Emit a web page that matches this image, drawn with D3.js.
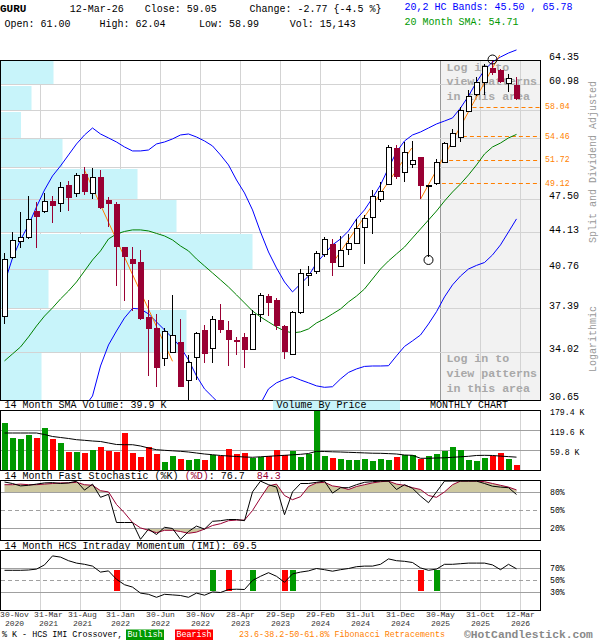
<!DOCTYPE html>
<html><head><meta charset="utf-8">
<script src="https://cdn.jsdelivr.net/npm/d3@7"></script>
<style>body{margin:0;background:#fff}svg{display:block}text{font-family:"Liberation Mono",monospace}</style>
</head><body><svg id="c" width="600" height="640"></svg>
<script>
// ---------------- DATA ----------------
const months = d3.timeMonth.range(new Date(2020,10,1), new Date(2026,3,1)).map(d3.timeFormat("%b-%Y"));
const openP  = [36.8,41.9,43.4,43.7,46.3,46.25,47.3,47.1,49.0,48.1,50.2,48.1,49.8,47.4,47.0,42.8,41.7,41.4,36.75,35.9,33.6,34.0,34.8,32.0,33.7,35.7,34.3,36.5,35.7,34.95,35.15,34.25,37.0,38.45,38.1,36.0,33.9,37.1,40.3,40.6,42.15,43.05,41.1,42.6,43.2,44.75,45.65,47.5,49.1,53.1,50.35,51.3,52.1,48.9,49.2,51.5,53.4,54.45,57.6,59.7,61.4,63.3,62.95,61.15,61.00];
const highP  = [42.2,44.25,46.2,47.8,47.2,48.1,47.8,49.3,49.4,50.3,50.9,50.8,50.6,47.7,47.2,42.8,42.8,42.5,38.1,37.0,35.9,38.5,36.6,33.8,35.55,36.1,36.8,37.8,36.4,35.2,35.45,37.3,38.7,38.6,38.3,36.1,37.25,40.8,41.05,42.45,43.7,43.55,43.85,44.0,45.45,45.9,48.45,49.35,53.45,53.45,53.85,53.9,52.1,49.0,51.85,53.8,55.35,58.1,60.25,62.05,63.75,64.4,63.1,62.35,62.04];
const lowP   = [36.2,41.7,42.7,43.5,42.7,46.1,45.1,46.2,46.3,47.7,47.9,47.55,46.5,44.7,39.3,38.0,37.2,36.5,32.3,31.5,33.0,34.0,31.5,30.6,32.0,33.25,33.2,35.5,33.0,33.8,32.9,34.2,36.35,36.8,35.7,33.5,33.8,37.0,39.3,40.35,41.85,40.2,41.0,42.05,43.1,41.25,44.0,47.25,49.0,49.65,49.3,50.8,47.5,41.9,49.0,51.4,53.25,53.8,57.45,59.5,59.6,62.3,61.15,60.05,58.99];
const closeP = [41.7,43.45,43.75,45.5,45.7,47.3,46.8,48.75,47.65,50.05,48.2,49.8,46.55,47.0,42.75,41.85,41.2,36.6,35.8,32.9,35.6,35.3,31.55,33.3,35.5,33.85,36.55,35.7,34.95,34.8,34.2,36.95,38.5,37.9,36.0,34.05,37.15,40.4,40.45,42.2,43.5,41.3,42.5,43.2,44.6,45.55,47.85,48.4,53.2,49.9,52.7,51.7,48.9,48.95,51.55,53.65,54.85,57.7,59.55,61.4,63.55,62.5,61.4,61.82,59.05];
const volumeK = [142,97,94,106,97,127,94,82,55,55,52,61,70,58,56,112,52,40,69,49,25,43,34,31,34,31,46,43,64,49,52,37,40,43,61,46,58,40,49,185,43,37,34,31,31,34,28,34,31,40,46,46,34,43,49,58,70,61,31,28,37,43,52,34,15.1];
const volSma14 = [112.1,112.1,112.1,112.1,112.1,107.6,101.7,98.7,95.7,92.1,90.3,88.2,86.7,82.2,77.7,77.1,77.1,73.3,67.3,62.2,60.4,58.9,57.4,55.3,52.3,49.3,47.2,44.9,43.4,41.9,40.4,39.5,41.0,42.5,44.0,45.4,46.9,48.4,50.8,57.4,56.8,55.9,55.3,54.4,53.5,52.6,51.7,51.4,50.5,49.3,46.3,45.4,36.5,36.5,37.4,38.0,39.5,41.0,42.5,44.9,45.4,44.9,43.0,41.5,39.9];
const upperBand = [39.56,41.78,43.46,44.90,46.70,48.46,49.97,51.07,52.31,53.58,54.64,55.48,54.76,54.29,53.81,53.23,52.77,52.77,52.88,53.58,53.81,54.17,54.64,54.76,54.40,53.93,53.35,52.31,51.18,49.53,48.15,46.40,44.22,42.33,40.88,39.65,38.80,39.48,40.17,41.33,42.15,42.99,43.55,44.32,45.49,46.40,47.63,49.00,50.84,52.65,53.93,54.64,55.00,55.48,55.97,56.33,56.71,57.95,59.49,61.33,62.96,64.07,64.77,65.34,65.78];
const lowerBand = [28.17,27.49,27.24,27.55,27.78,27.96,28.10,28.59,28.90,29.34,30.18,30.92,33.01,34.56,35.63,36.66,37.43,37.38,36.98,36.34,35.71,35.09,34.41,33.45,32.30,31.40,30.86,30.33,30.05,30.0,29.80,29.86,30.40,31.40,31.82,32.06,32.25,32.02,31.82,31.61,31.51,31.55,32.09,32.55,32.80,32.98,33.01,33.01,33.03,33.75,34.45,34.87,35.32,36.18,37.16,38.38,39.40,40.17,40.79,41.11,41.37,42.06,42.99,44.22,45.50];
const sma20 = [33.38,33.89,34.41,35.17,36.02,36.81,37.47,38.21,38.88,39.65,40.61,41.60,42.43,43.55,44.03,44.27,44.42,44.42,44.32,44.08,43.84,43.46,42.89,42.43,41.69,41.06,40.44,39.83,39.22,38.55,37.88,37.22,36.74,36.34,35.95,35.63,35.48,35.56,35.79,36.26,36.58,36.98,37.38,37.96,38.45,39.05,39.91,40.79,41.51,42.15,42.79,43.65,44.51,45.39,46.29,47.31,48.25,49.10,50.08,51.18,52.42,53.23,53.69,54.29,54.71];
const stochK = [97.5,95,91,92,94,96,96.5,95,96,98.8,84,94,72,77,30,30,30,2,19,10,22,20,2,15,24,19,32,33,35,35,33,81,99,93,89,43,81,95,95,97,99,79,88,88,93,97,98,99,99,85,93,87,74,63,81,99,99,99,99,99,95,90.5,89,88,76.7];
const stochD = [93,93,94,93,93,94,95,96,96,97,93,92,83,81,60,46,30,21,17,13,17,17,15,12,14,19,25,28,33,34,34,50,71,91,94,75,68,73,90,96,97,91,89,85,90,93,96,98,99,94,92,88,85,75,72,81,93,99,99,99,98,95,92,89,84.3];
const imi = [67,67,67,67.5,69,76,91,89,83,79,77,74,64,66,52,43,39,29,27,22,27,26,25,22,29,25.5,31,30,35,35.5,35,50,57,63,57,47,61,64,66,70,68,65.5,68,70,73,74,74,77,86,83,82,80,71,67,69,77,77,78,79,79,79,76,68,77,69.5];
const imiSignals = [{i:14,t:"bear"},{i:26,t:"bull"},{i:28,t:"bear"},{i:31,t:"bull"},{i:35,t:"bear"},{i:36,t:"bull"},{i:52,t:"bear"},{i:54,t:"bull"}];
const priceTicks = [64.35,60.98,57.61,54.24,50.87,47.50,44.13,40.76,37.39,34.02,30.65];
const fibLevels = [58.04,54.46,51.72,49.12];
const fibStartIdx = [58.5,57.3,54.7,53.8];
const trendLines = [{i0:10,p0:50.6,i1:21,p1:33.35},{i0:41,p0:41.3,i1:50.9,p1:53.1},{i0:52,p0:47.5,i1:61.9,p1:65.06}];
const patternMarks = [{i:53,p:41.6},{i:61,p:64.42}];
const vbpVolume = [210,122,80,246,546,702,1006,190,742,162]; // per price band, top to bottom
const volTicks = [179.4,119.6,59.8];
const volTickLabels = ["179.4 K","119.6 K","59.8 K"];
const pctTicksStoch = [80,50,20];
const pctTicksImi = [70,50,30];
const dateTickIdx = [0,4,9,14,19,24,29,34,39,44,49,54,59,64];
const dateTickLabels = [["30-Nov","2020"],["31-Mar","2021"],["31-Aug","2021"],["31-Jan","2022"],["30-Jun","2022"],["30-Nov","2022"],["28-Apr","2023"],["29-Sep","2023"],["29-Feb","2024"],["31-Jul","2024"],["31-Dec","2024"],["30-May","2025"],["31-Oct","2025"],["12-Mar","2026"]];

// ---------------- SCALES ----------------
const svg = d3.select("#c");
const W0 = 0.5, W1 = 540.5;
const x = d3.scaleLinear().domain([0,64]).range([4.5,516.5]);
const yP = d3.scaleLog().domain([30.65,64.35]).range([400,60]);
const yV = d3.scaleLinear().domain([0,179.4]).range([470.5,410.5]);
const yS = d3.scaleLinear().domain([0,100]).range([540.5,480.5]);
const yI = d3.scaleLinear().domain([0,100]).range([610.5,550.5]);
const vbpX = d3.scaleLinear().domain([0,2160]).range([1,541]);
const crisp = v => Math.round(v - 0.5) + 0.5;

const RED_C = "#990033", GREEN_V = "#009900", RED_V = "#ff0000", GRID = "#d3d3d3", GRID2 = "#a0a0a0", ORANGE = "#ff7f00";
const defs = svg.append("defs");
defs.append("clipPath").attr("id","cp").append("rect").attr("x",1).attr("y",0).attr("width",539).attr("height",400);
defs.append("clipPath").attr("id","cv").append("rect").attr("x",1).attr("y",411).attr("width",539).attr("height",59);
defs.append("clipPath").attr("id","cs").append("rect").attr("x",1).attr("y",481).attr("width",539).attr("height",59);
defs.append("clipPath").attr("id","ci").append("rect").attr("x",1).attr("y",551).attr("width",539).attr("height",59);
defs.append("clipPath").attr("id","csHi").append("rect").attr("x",1).attr("y",481).attr("width",539).attr("height",yS(80)-481);
defs.append("clipPath").attr("id","csLo").append("rect").attr("x",1).attr("y",yS(20)).attr("width",539).attr("height",540-yS(20));

const gridX = dateTickIdx.slice(1).map(i => crisp(x(i)+4));

// ---------------- HEADER ----------------
const hdr = svg.append("g").attr("font-size",10).attr("dominant-baseline","middle");
hdr.append("text").attr("x",0).attr("y",9.5).attr("font-weight","bold").attr("font-size",11).text("GURU");
hdr.append("text").attr("x",69.7).attr("y",9.5).text("12-Mar-26");
hdr.append("text").attr("x",144.7).attr("y",9.5).text("Close: " + closeP[64].toFixed(2));
hdr.append("text").attr("x",249.5).attr("y",9.5).attr("xml:space","preserve").text("Change: -2.77 {-4.5 %}");
hdr.append("text").attr("x",404.5).attr("y",7.5).attr("fill","#0000ff").attr("xml:space","preserve").text("20,2 HC Bands: 45.50 , 65.78");
hdr.append("text").attr("x",4.6).attr("y",24.5).text("Open: " + openP[64].toFixed(2));
hdr.append("text").attr("x",99.5).attr("y",24.5).text("High: " + highP[64].toFixed(2));
hdr.append("text").attr("x",199).attr("y",24.5).text("Low: " + lowP[64].toFixed(2));
hdr.append("text").attr("x",289.7).attr("y",24.5).text("Vol: 15,143");
hdr.append("text").attr("x",404.5).attr("y",22.5).attr("fill","#009900").text("20 Month SMA: 54.71");

// ---------------- PRICE PANEL ----------------
const gp = svg.append("g");
gp.append("rect").attr("x",crisp(x(54)+4)).attr("y",60.5).attr("width",W1-crisp(x(54)+4)).attr("height",340).attr("fill","#f2f2f2");
gp.selectAll(".vg").data(gridX).join("line").attr("x1",d=>d).attr("x2",d=>d).attr("y1",61).attr("y2",400)
  .attr("stroke",d=>d===crisp(x(54)+4)?"#999":GRID);
const bands = d3.range(vbpVolume.length).map(k => ({top:yP(priceTicks[k]), bot:yP(priceTicks[k+1]), v:vbpVolume[k]}));
gp.selectAll(".vbp").data(bands).join("rect").attr("x",1).attr("y",d=>Math.round(d.top)+1).attr("width",d=>vbpX(d.v)-1)
  .attr("height",d=>Math.round(d.bot)-Math.round(d.top)-1).attr("fill","#c8f4fa");
gp.selectAll(".hg").data(priceTicks.slice(1,-1)).join("line").attr("x1",1).attr("x2",540).attr("y1",d=>crisp(yP(d))).attr("y2",d=>crisp(yP(d))).attr("stroke",GRID);
const lt = gp.append("g").attr("font-size",11.6).attr("font-weight","bold").attr("fill","#a8a8a8");
[["Log in to",67.7],["view patterns",82.3],["in this area",97],["Log in to",359],["view patterns",374],["in this area",389]].forEach(([t,yy])=>{
  lt.append("text").attr("x",446.5).attr("y",yy).attr("dominant-baseline","middle").text(t);
});
fibLevels.forEach((f,k)=>{
  gp.append("line").attr("x1",x(fibStartIdx[k])).attr("x2",540).attr("y1",crisp(yP(f))).attr("y2",crisp(yP(f)))
    .attr("stroke",ORANGE).attr("stroke-dasharray","4,3");
  gp.append("text").attr("x",545).attr("y",yP(f)).attr("dominant-baseline","middle").attr("font-size",8.2).attr("fill",ORANGE).text(f.toFixed(2));
});
priceTicks.filter(v => fibLevels.every(f => Math.abs(yP(f)-yP(v))>10)).forEach(v=>{
  gp.append("text").attr("x",549).attr("y",yP(v)-3).attr("dominant-baseline","middle").attr("font-size",10).text(v.toFixed(2));
});
const lines = gp.append("g").attr("clip-path","url(#cp)").attr("fill","none");
const lineGen = arr => d3.line().x((d,i)=>x(i)).y(d=>yP(d))(arr);
lines.append("path").attr("d",lineGen(upperBand)).attr("stroke","#0000ff");
lines.append("path").attr("d",lineGen(lowerBand)).attr("stroke","#0000ff");
lines.append("path").attr("d",lineGen(sma20)).attr("stroke","#008000");
trendLines.forEach(t=>{
  lines.append("line").attr("x1",x(t.i0)).attr("y1",yP(t.p0)).attr("x2",x(t.i1)).attr("y2",yP(t.p1)).attr("stroke",ORANGE);
});
const cg = gp.append("g").attr("clip-path","url(#cp)").attr("shape-rendering","crispEdges");
d3.range(65).forEach(i=>{
  const up = closeP[i] >= openP[i];
  const col = up ? "#000" : RED_C;
  cg.append("line").attr("x1",x(i)).attr("x2",x(i)).attr("y1",Math.round(yP(highP[i]))).attr("y2",Math.round(yP(lowP[i]))).attr("stroke",col);
  const t = Math.round(yP(Math.max(openP[i],closeP[i]))), b = Math.round(yP(Math.min(openP[i],closeP[i])));
  if (up) cg.append("rect").attr("x",x(i)-2).attr("y",t+0.5).attr("width",5).attr("height",Math.max(0,b-t)).attr("fill","#fff").attr("stroke","#000");
  else cg.append("rect").attr("x",x(i)-2.5).attr("y",t).attr("width",6).attr("height",Math.max(1,b-t)).attr("fill",RED_C);
});
patternMarks.forEach(m=>{
  gp.append("circle").attr("cx",x(m.i)).attr("cy",yP(m.p)).attr("r",4.5).attr("fill","none").attr("stroke","#000");
});
gp.append("rect").attr("x",W0).attr("y",60.5).attr("width",540).attr("height",340).attr("fill","none").attr("stroke","#000").attr("shape-rendering","crispEdges");
svg.append("text").attr("transform","translate(596,162) rotate(-90)").attr("text-anchor","middle").attr("font-family","DejaVu Sans, sans-serif").attr("font-size",10).attr("fill","#999").text("Split and Dividend Adjusted");
svg.append("text").attr("transform","translate(596,339) rotate(-90)").attr("text-anchor","middle").attr("font-family","DejaVu Sans, sans-serif").attr("font-size",10).attr("fill","#999").text("Logarithmic");

// ---------------- VOLUME PANEL ----------------
const gv = svg.append("g");
gv.append("rect").attr("x",273).attr("y",400.5).attr("width",127).attr("height",10).attr("fill","#c8f4fa");
gv.append("text").attr("x",4.6).attr("y",405.5).attr("dominant-baseline","middle").attr("font-size",10).text("14 Month SMA Volume: " + volSma14[64].toFixed(1) + " K");
gv.append("text").attr("x",276.5).attr("y",405.5).attr("dominant-baseline","middle").attr("font-size",10).text("Volume By Price");
gv.append("text").attr("x",430).attr("y",405.5).attr("dominant-baseline","middle").attr("font-size",10).text("MONTHLY CHART");
gv.selectAll(".vg").data(gridX).join("line").attr("x1",d=>d).attr("x2",d=>d).attr("y1",411).attr("y2",470).attr("stroke",GRID);
gv.selectAll(".hg").data(volTicks.slice(1)).join("line").attr("x1",1).attr("x2",540).attr("y1",d=>crisp(yV(d))).attr("y2",d=>crisp(yV(d))).attr("stroke",GRID2);
gv.append("g").attr("clip-path","url(#cv)").attr("shape-rendering","crispEdges").selectAll("rect").data(volumeK).join("rect")
  .attr("x",(d,i)=>x(i)-2.5).attr("width",6).attr("y",d=>yV(d)).attr("height",d=>yV(0)-yV(d))
  .attr("fill",(d,i)=> closeP[i]>=openP[i] ? GREEN_V : RED_V);
gv.append("path").attr("clip-path","url(#cv)").attr("d",d3.line().x((d,i)=>x(i)).y(d=>yV(d))(volSma14)).attr("fill","none").attr("stroke","#000");
volTicks.forEach((v,k)=> gv.append("text").attr("x",550).attr("y",yV(v)+2.3).attr("dominant-baseline","middle").attr("font-size",8.2).text(volTickLabels[k]));
gv.append("rect").attr("x",W0).attr("y",410.5).attr("width",540).attr("height",60).attr("fill","none").attr("stroke","#000").attr("shape-rendering","crispEdges");

// ---------------- STOCHASTIC PANEL ----------------
const gs = svg.append("g");
const st = gs.append("text").attr("x",4.6).attr("y",476).attr("dominant-baseline","middle").attr("font-size",10).attr("xml:space","preserve");
st.append("tspan").text("14 Month Fast Stochastic (%K) ");
st.append("tspan").attr("fill",RED_C).text("(%D)");
st.append("tspan").text(": " + stochK[64].toFixed(1) + "  ");
st.append("tspan").attr("fill",RED_C).text(stochD[64].toFixed(1));
gs.selectAll(".vg").data(gridX).join("line").attr("x1",d=>d).attr("x2",d=>d).attr("y1",481).attr("y2",540).attr("stroke",GRID);
const areaHi = d3.area().x((d,i)=>x(i)).y0(yS(80)).y1(d=>yS(d));
const areaLo = d3.area().x((d,i)=>x(i)).y0(yS(20)).y1(d=>yS(d));
gs.append("path").attr("clip-path","url(#csHi)").attr("d",areaHi(stochD)).attr("fill","#cdc8a0");
gs.append("path").attr("clip-path","url(#csLo)").attr("d",areaLo(stochD)).attr("fill","#cdc8a0");
pctTicksStoch.forEach(p=>{
  gs.append("line").attr("x1",1).attr("x2",540).attr("y1",crisp(yS(p))).attr("y2",crisp(yS(p))).attr("stroke",GRID2).attr("stroke-dasharray",p===50?"4,3":null);
  gs.append("text").attr("x",550).attr("y",yS(p)).attr("dominant-baseline","middle").attr("font-size",8.2).text(p+"%");
});
const sl = d3.line().x((d,i)=>x(i)).y(d=>yS(d));
gs.append("path").attr("clip-path","url(#cs)").attr("d",sl(stochD)).attr("fill","none").attr("stroke",RED_C);
gs.append("path").attr("clip-path","url(#cs)").attr("d",sl(stochK)).attr("fill","none").attr("stroke","#000");
gs.append("rect").attr("x",W0).attr("y",480.5).attr("width",540).attr("height",60).attr("fill","none").attr("stroke","#000").attr("shape-rendering","crispEdges");

// ---------------- IMI PANEL ----------------
const gi = svg.append("g");
gi.append("text").attr("x",4.6).attr("y",546).attr("dominant-baseline","middle").attr("font-size",10).text("14 Month HCS Intraday Momentum (IMI): " + imi[64].toFixed(1));
gi.selectAll(".vg").data(gridX).join("line").attr("x1",d=>d).attr("x2",d=>d).attr("y1",551).attr("y2",610).attr("stroke",GRID);
pctTicksImi.forEach(p=>{
  gi.append("line").attr("x1",1).attr("x2",540).attr("y1",crisp(yI(p))).attr("y2",crisp(yI(p))).attr("stroke",GRID2).attr("stroke-dasharray",p===50?"4,3":null);
  gi.append("text").attr("x",550).attr("y",yI(p)).attr("dominant-baseline","middle").attr("font-size",8.2).text(p+"%");
});
gi.append("g").attr("shape-rendering","crispEdges").selectAll("rect").data(imiSignals).join("rect")
  .attr("x",d=>x(d.i)-3).attr("width",6).attr("y",yI(67)).attr("height",yI(32)-yI(67)).attr("fill",d=>d.t==="bull"?GREEN_V:RED_V);
gi.append("path").attr("clip-path","url(#ci)").attr("d",d3.line().x((d,i)=>x(i)).y(d=>yI(d))(imi)).attr("fill","none").attr("stroke","#000");
gi.append("rect").attr("x",W0).attr("y",550.5).attr("width",540).attr("height",60).attr("fill","none").attr("stroke","#000").attr("shape-rendering","crispEdges");

// ---------------- DATE AXIS ----------------
const ga = svg.append("g").attr("font-size",8).attr("fill","#333");
let prevRight = -10;
dateTickIdx.forEach((i,k)=>{
  const w = 29;
  let cx = k===0 ? w/2 : x(i)+4;
  if (cx - w/2 < prevRight + 5) cx = prevRight + 5 + w/2;
  if (cx + w/2 > 600) cx = 600 - w/2;
  prevRight = cx + w/2;
  ga.append("text").attr("x",cx).attr("y",614.5).attr("text-anchor","middle").attr("dominant-baseline","middle").text(dateTickLabels[k][0]);
  ga.append("text").attr("x",cx).attr("y",623.5).attr("text-anchor","middle").attr("dominant-baseline","middle").text(dateTickLabels[k][1]);
});

// ---------------- FOOTER ----------------
const gf = svg.append("g").attr("font-size",8.4);
gf.append("text").attr("x",2).attr("y",635).attr("dominant-baseline","middle").text("% K - HCS IMI Crossover,");
gf.append("rect").attr("x",126).attr("y",629.5).attr("width",38).attr("height",10.5).attr("fill",GREEN_V);
gf.append("text").attr("x",145).attr("y",635).attr("text-anchor","middle").attr("dominant-baseline","middle").attr("fill","#fff").text("Bullish");
gf.append("rect").attr("x",175).attr("y",629.5).attr("width",38).attr("height",10.5).attr("fill",RED_V);
gf.append("text").attr("x",194).attr("y",635).attr("text-anchor","middle").attr("dominant-baseline","middle").attr("fill","#fff").text("Bearish");
gf.append("text").attr("x",239).attr("y",635).attr("dominant-baseline","middle").attr("fill",ORANGE).text("23.6-38.2-50-61.8% Fibonacci Retracements");
gf.append("text").attr("x",464).attr("y",635.5).attr("dominant-baseline","middle").attr("font-size",11.3).attr("font-weight","bold").attr("fill","#888").text("©HotCandlestick.com");
</script></body></html>
